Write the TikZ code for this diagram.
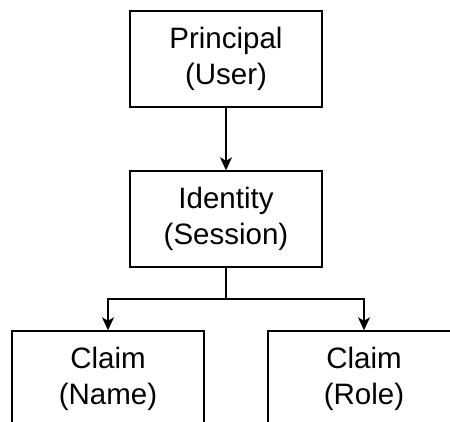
\documentclass[tikz,border=0pt]{standalone}
\usepackage{fontspec}
\setmainfont{Liberation Sans}
\usetikzlibrary{arrows.meta}
\begin{document}
\begin{tikzpicture}[x=1pt,y=1pt,
  box/.style={draw=black, line width=1.4pt, minimum width=192pt, minimum height=96pt,
    inner sep=0pt, align=center, font=\fontsize{29.5}{36}\selectfont},
  link/.style={draw=black, line width=1.4pt},
  arr/.style={link, -{Stealth[length=13pt,width=12pt,inset=3.5pt]}}]
  \useasboundingbox (0,0) rectangle (450,422);
  \clip (0,0) rectangle (450,422);
  \node[box] (principal) at (226,363) {Principal\\(User)};
  \node[box] (identity) at (226,203) {Identity\\(Session)};
  \node[box] (name) at (108,43) {Claim\\(Name)};
  \node[box] (role) at (364,43) {Claim\\(Role)};
  \coordinate (split) at (226,123);
  \draw[arr] (principal) -- (identity);
  \draw[arr] (identity) -- (split) -| (name);
  \draw[arr] (split) -| (role);
\end{tikzpicture}
\end{document}
